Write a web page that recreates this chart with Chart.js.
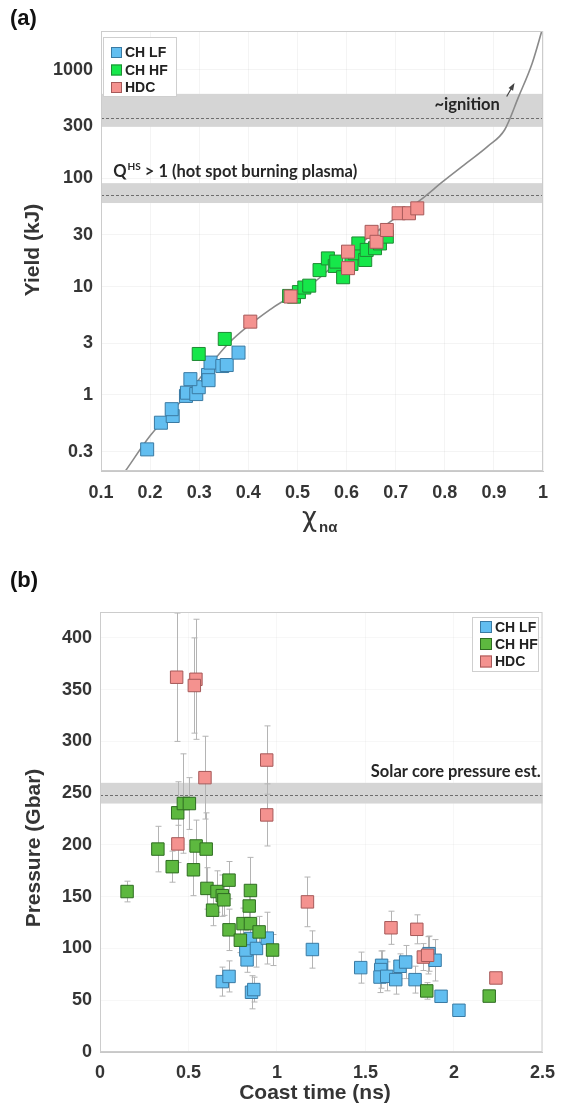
<!DOCTYPE html>
<html>
<head>
<meta charset="utf-8">
<script src="https://cdn.jsdelivr.net/npm/chart.js@4.4.0/dist/chart.umd.min.js"></script>
<style>
body { margin:0; background:#fff; width:565px; height:1113px; position:relative; overflow:hidden; }
canvas { position:absolute; left:0; }
#ca { top:0; }
#cb { top:556px; }
</style>
</head>
<body>
<canvas id="ca" width="565" height="556"></canvas>
<canvas id="cb" width="565" height="557"></canvas>
<script>
// ---- panel (a): yield vs chi_n_alpha ----
var lfChiA   = [0.194, 0.222, 0.246, 0.244, 0.273, 0.275, 0.294, 0.299, 0.282, 0.318, 0.319, 0.323, 0.347, 0.356, 0.380];
var lfYieldA = [0.315, 0.555, 0.64, 0.74, 0.98, 1.05, 1.02, 1.18, 1.40, 1.53, 1.37, 1.99, 1.85, 1.89, 2.46];
var hfChiA   = [0.299, 0.352, 0.483, 0.493, 0.503, 0.514, 0.524, 0.545, 0.562, 0.576, 0.579, 0.593, 0.610, 0.617, 0.624, 0.638, 0.641, 0.658, 0.668, 0.682];
var hfYieldA = [2.39, 3.29, 8.2, 8.07, 8.9, 9.8, 10.2, 14.2, 18.2, 15.5, 17.0, 12.2, 16.2, 20.3, 25.0, 17.6, 21.8, 22.6, 25.0, 28.9];
var hdcChiA   = [0.404, 0.486, 0.603, 0.603, 0.651, 0.661, 0.682, 0.706, 0.727, 0.744];
var hdcYieldA = [4.75, 8.1, 21.0, 14.8, 32.0, 25.9, 33.3, 47.5, 47.5, 52.7];
// model curve
var curveChi   = [0.150, 0.200, 0.274, 0.360, 0.448, 0.531, 0.600, 0.680, 0.758, 0.792, 0.846, 0.888, 0.922, 0.950, 0.978, 0.999];
var curveYield = [0.2, 0.42, 1.0, 3.0, 6.3, 10.7, 20, 37, 67, 90, 140, 198, 280, 560, 1150, 2400];
var xTicksA = [0.1, 0.2, 0.3, 0.4, 0.5, 0.6, 0.7, 0.8, 0.9, 1];
var yTicksA = [0.3, 1, 3, 10, 30, 100, 300, 1000];
var bandLoA  = [298, 59];
var bandMidA = [360, 70];
var bandHiA  = [600, 90];

// ---- panel (b): pressure vs coast time ----
var lfTimeB  = [0.691, 0.729, 0.856, 0.869, 0.831, 0.824, 0.850, 0.884, 0.945, 1.200, 1.473, 1.591, 1.586, 1.582, 1.620, 1.671, 1.695, 1.727, 1.780, 1.859, 1.893, 1.927, 2.028];
var lfPresB  = [68, 73, 57.7, 60.3, 89, 98.5, 109.6, 100, 110, 99, 81.5, 83.7, 79.6, 72.4, 73.1, 69.9, 82.8, 86.9, 69.9, 95, 88.6, 53.8, 40.3];
var lfErrB   = [14, 15, 16, 12, 12, 15, 18, 18, 25, 18, 15, 14, 18, 15, 14, 14, 12, 16, 13, 17, 20, 5, 3];
var hfTimeB  = [0.153, 0.327, 0.408, 0.439, 0.471, 0.505, 0.528, 0.543, 0.600, 0.604, 0.636, 0.661, 0.691, 0.700, 0.729, 0.729, 0.793, 0.808, 0.850, 0.843, 0.850, 0.899, 0.975, 1.846, 2.199];
var hfPresB  = [155, 196, 179, 231, 240, 240, 176, 199, 196, 158, 137, 155, 151, 147, 166, 118, 108, 124, 124, 141, 156, 116, 98.5, 59, 54];
var hfErrB   = [10, 22, 15, 30, 48, 25, 25, 25, 35, 20, 15, 20, 20, 15, 18, 20, 12, 15, 15, 18, 32, 15, 15, 8, 5];
var hdcTimeB = [0.433, 0.542, 0.533, 0.593, 0.942, 0.942, 0.440, 1.172, 1.644, 1.790, 1.827, 1.851, 2.237];
var hdcPresB = [362, 360, 354, 265, 282, 229, 201, 145, 120, 118.5, 91.7, 93.4, 71.5];
var hdcErrB  = [62, 58, 46, 40, 33, 30, 18, 24, 16, 14, 13, 18, 3];
var xTicksB = [0, 0.5, 1, 1.5, 2, 2.5];
var yTicksB = [0, 50, 100, 150, 200, 250, 300, 350, 400];
var bandLoB = 240, bandMidB = 248, bandHiB = 260;

var seriesNames = ['CH LF', 'CH HF', 'HDC'];

function pts(xs, ys) { return xs.map(function (x, i) { return { x: x, y: ys[i] }; }); }

var tickFont = { family: '"Liberation Sans", Arial, sans-serif', size: 18, weight: 'bold' };
var INK = '#353535';
var NOTE_FONT = 'bold 16.5px Lato, "Open Sans", sans-serif';
var LF_FILL = '#62bef0', LF_EDGE = '#3a7aa3';
var HFA_FILL = '#16e74a', HFA_EDGE = '#1f8a34';
var HFB_FILL = '#5db83f', HFB_EDGE = '#2f6d22';
var HDC_FILL = '#f4928f', HDC_EDGE = '#a65959';

function drawLegend(ctx, x, y, w, h, rowY, sq, colors) {
  ctx.save();
  ctx.fillStyle = '#fff';
  ctx.fillRect(x, y, w, h);
  ctx.strokeStyle = '#cfcfcf';
  ctx.lineWidth = 1;
  ctx.strokeRect(x + 0.5, y + 0.5, w, h);
  ctx.font = 'bold 14px "Liberation Sans", Arial, sans-serif';
  ctx.textBaseline = 'middle';
  for (var i = 0; i < seriesNames.length; i++) {
    ctx.fillStyle = colors[i][0];
    ctx.fillRect(x + 8, rowY[i] - sq / 2, sq, sq);
    ctx.strokeStyle = colors[i][1];
    ctx.strokeRect(x + 8.5, rowY[i] - sq / 2 + 0.5, sq - 1, sq - 1);
    ctx.fillStyle = '#222';
    ctx.fillText(seriesNames[i], x + 11 + sq, rowY[i] + 1);
  }
  ctx.restore();
}

function drawBox(chart) {
  var a = chart.chartArea, ctx = chart.ctx;
  ctx.save();
  ctx.strokeStyle = '#cccccc';
  ctx.lineWidth = 1;
  ctx.strokeRect(a.left + 0.5, a.top + 0.5, a.right - a.left - 1, a.bottom - a.top - 1);
  ctx.restore();
}

// ---------- chart (a) ----------
var plugA = {
  id: 'extrasA',
  beforeDatasetsDraw: function (chart) {
    var ctx = chart.ctx, a = chart.chartArea, y = chart.scales.y;
    ctx.save();
    for (var i = 0; i < bandLoA.length; i++) {
      var t = y.getPixelForValue(bandHiA[i]), b = y.getPixelForValue(bandLoA[i]);
      ctx.fillStyle = '#d5d5d5';
      ctx.fillRect(a.left, t, a.right - a.left, b - t);
      var m = Math.round(y.getPixelForValue(bandMidA[i])) + 0.5;
      ctx.strokeStyle = '#6e6e6e';
      ctx.lineWidth = 1;
      ctx.setLineDash([3, 2]);
      ctx.beginPath(); ctx.moveTo(a.left, m); ctx.lineTo(a.right, m); ctx.stroke();
      ctx.setLineDash([]);
    }
    ctx.restore();
  },
  afterDraw: function (chart) {
    var ctx = chart.ctx, x = chart.scales.x, y = chart.scales.y;
    drawBox(chart);
    ctx.save();
    // annotations
    ctx.fillStyle = '#262626';
    ctx.textBaseline = 'middle';
    ctx.font = NOTE_FONT;
    ctx.textAlign = 'right';
    ctx.fillText('~ignition', x.getPixelForValue(0.912), y.getPixelForValue(475));
    ctx.textAlign = 'left';
    var qx = x.getPixelForValue(0.125), qy = y.getPixelForValue(114);
    ctx.fillText('Q', qx, qy);
    var qw = ctx.measureText('Q').width;
    ctx.font = 'bold 10px Lato, "Open Sans", sans-serif';
    ctx.fillText('HS', qx + qw + 1, qy - 5);
    var hw = ctx.measureText('HS').width;
    ctx.font = NOTE_FONT;
    ctx.fillText(' > 1 (hot spot burning plasma)', qx + qw + hw + 1, qy);
    // arrow toward ignition
    var x0 = x.getPixelForValue(0.926), y0 = y.getPixelForValue(567);
    var x1 = x.getPixelForValue(0.940), y1 = y.getPixelForValue(728);
    ctx.strokeStyle = '#444'; ctx.fillStyle = '#444'; ctx.lineWidth = 1.2;
    ctx.beginPath(); ctx.moveTo(x0, y0); ctx.lineTo(x1, y1); ctx.stroke();
    var ang = Math.atan2(y1 - y0, x1 - x0);
    ctx.beginPath();
    ctx.moveTo(x1 + 2 * Math.cos(ang), y1 + 2 * Math.sin(ang));
    ctx.lineTo(x1 - 6 * Math.cos(ang - 0.45), y1 - 6 * Math.sin(ang - 0.45));
    ctx.lineTo(x1 - 6 * Math.cos(ang + 0.45), y1 - 6 * Math.sin(ang + 0.45));
    ctx.closePath(); ctx.fill();
    // axis titles
    ctx.fillStyle = INK;
    ctx.textAlign = 'center';
    ctx.font = 'bold 21px "Liberation Sans", Arial, sans-serif';
    ctx.save();
    ctx.translate(33, 250); ctx.rotate(-Math.PI / 2);
    ctx.fillText('Yield (kJ)', 0, 0);
    ctx.restore();
    ctx.textAlign = 'left';
    ctx.textBaseline = 'alphabetic';
    ctx.font = '26px "DejaVu Sans", sans-serif';
    ctx.fillText('\u03c7', 302, 526);
    ctx.font = 'bold 15px "Liberation Sans", Arial, sans-serif';
    ctx.fillText('n\u03b1', 319, 532);
    ctx.textBaseline = 'middle';
    ctx.font = 'bold 22px "Liberation Sans", Arial, sans-serif';
    ctx.fillStyle = '#111';
    ctx.fillText('(a)', 10, 19);
    ctx.restore();
    drawLegend(ctx, 103, 37, 73, 59, [52.5, 70, 87.5], 11,
      [[LF_FILL, LF_EDGE], [HFA_FILL, HFA_EDGE], [HDC_FILL, HDC_EDGE]]);
  }
};

new Chart(document.getElementById('ca'), {
  type: 'scatter',
  data: {
    datasets: [
      { label: seriesNames[0], data: pts(lfChiA, lfYieldA), pointStyle: 'rect', pointRadius: 9.2,
        backgroundColor: LF_FILL, borderColor: LF_EDGE, borderWidth: 1, order: 3 },
      { label: seriesNames[1], data: pts(hfChiA, hfYieldA), pointStyle: 'rect', pointRadius: 9.2,
        backgroundColor: HFA_FILL, borderColor: HFA_EDGE, borderWidth: 1, order: 2 },
      { label: seriesNames[2], data: pts(hdcChiA, hdcYieldA), pointStyle: 'rect', pointRadius: 9.2,
        backgroundColor: HDC_FILL, borderColor: HDC_EDGE, borderWidth: 1, order: 1 },
      { label: 'model', data: pts(curveChi, curveYield), showLine: true, pointRadius: 0,
        borderColor: '#8a8a8a', borderWidth: 1.6, cubicInterpolationMode: 'monotone', order: 10 }
    ]
  },
  options: {
    responsive: false,
    animation: false,
    events: [],
    layout: { padding: { left: 0, right: 22, top: 31, bottom: 0 } },
    plugins: { legend: { display: false }, tooltip: { enabled: false } },
    scales: {
      x: {
        type: 'linear', min: 0.1, max: 1,
        afterBuildTicks: function (s) { s.ticks = xTicksA.map(function (v) { return { value: v }; }); },
        afterFit: function (s) { s.height = 85; },
        ticks: { font: tickFont, color: INK, padding: 11, maxRotation: 0,
          callback: function (v) { return String(Math.round(v * 10) / 10); } },
        grid: { color: 'rgba(0,0,0,0.045)', drawTicks: false },
        border: { color: '#c8c8c8' }
      },
      y: {
        type: 'logarithmic', min: 0.199, max: 2280,
        afterBuildTicks: function (s) { s.ticks = yTicksA.map(function (v) { return { value: v }; }); },
        afterFit: function (s) { s.width = 101; },
        ticks: { font: tickFont, color: INK, padding: 8,
          callback: function (v) { return String(v); } },
        grid: { color: 'rgba(0,0,0,0.045)', drawTicks: false },
        border: { color: '#c8c8c8' }
      }
    }
  },
  plugins: [plugA]
});

// ---------- chart (b) ----------
var errSets = [[lfTimeB, lfPresB, lfErrB], [hfTimeB, hfPresB, hfErrB], [hdcTimeB, hdcPresB, hdcErrB]];

var plugB = {
  id: 'extrasB',
  beforeDatasetsDraw: function (chart) {
    var ctx = chart.ctx, a = chart.chartArea, x = chart.scales.x, y = chart.scales.y;
    ctx.save();
    var t = y.getPixelForValue(bandHiB), b = y.getPixelForValue(bandLoB);
    ctx.fillStyle = '#d5d5d5';
    ctx.fillRect(a.left, t, a.right - a.left, b - t);
    var m = Math.round(y.getPixelForValue(bandMidB)) + 0.5;
    ctx.strokeStyle = '#6e6e6e'; ctx.lineWidth = 1; ctx.setLineDash([3, 2]);
    ctx.beginPath(); ctx.moveTo(a.left, m); ctx.lineTo(a.right, m); ctx.stroke();
    ctx.setLineDash([]);
    // error bars
    ctx.beginPath();
    ctx.rect(a.left, a.top, a.right - a.left, a.bottom - a.top);
    ctx.clip();
    ctx.strokeStyle = '#b4b4b4'; ctx.lineWidth = 1;
    errSets.forEach(function (s) {
      for (var i = 0; i < s[0].length; i++) {
        var px = Math.round(x.getPixelForValue(s[0][i])) + 0.5;
        var hi = y.getPixelForValue(s[1][i] + s[2][i]);
        var lo = y.getPixelForValue(s[1][i] - s[2][i]);
        ctx.beginPath();
        ctx.moveTo(px, hi); ctx.lineTo(px, lo);
        ctx.moveTo(px - 3, hi); ctx.lineTo(px + 3, hi);
        ctx.moveTo(px - 3, lo); ctx.lineTo(px + 3, lo);
        ctx.stroke();
      }
    });
    ctx.restore();
  },
  afterDraw: function (chart) {
    var ctx = chart.ctx, x = chart.scales.x, y = chart.scales.y;
    drawBox(chart);
    ctx.save();
    ctx.fillStyle = '#262626';
    ctx.textBaseline = 'middle';
    ctx.textAlign = 'right';
    ctx.font = NOTE_FONT;
    ctx.fillText('Solar core pressure est.', x.getPixelForValue(2.49), y.getPixelForValue(271));
    ctx.fillStyle = INK;
    ctx.textAlign = 'center';
    ctx.font = 'bold 21px "Liberation Sans", Arial, sans-serif';
    ctx.save();
    ctx.translate(34, 292); ctx.rotate(-Math.PI / 2);
    ctx.fillText('Pressure (Gbar)', 0, 0);
    ctx.restore();
    ctx.fillText('Coast time (ns)', 315, 537);
    ctx.textAlign = 'left';
    ctx.font = 'bold 22px "Liberation Sans", Arial, sans-serif';
    ctx.fillStyle = '#111';
    ctx.fillText('(b)', 10, 25);
    ctx.restore();
    drawLegend(ctx, 472, 61, 66, 54, [71, 88, 105.5], 12,
      [[LF_FILL, LF_EDGE], [HFB_FILL, HFB_EDGE], [HDC_FILL, HDC_EDGE]]);
  }
};

new Chart(document.getElementById('cb'), {
  type: 'scatter',
  data: {
    datasets: [
      { label: seriesNames[0], data: pts(lfTimeB, lfPresB), pointStyle: 'rect', pointRadius: 8.8,
        backgroundColor: LF_FILL, borderColor: LF_EDGE, borderWidth: 1, order: 3 },
      { label: seriesNames[1], data: pts(hfTimeB, hfPresB), pointStyle: 'rect', pointRadius: 8.8,
        backgroundColor: HFB_FILL, borderColor: HFB_EDGE, borderWidth: 1, order: 2 },
      { label: seriesNames[2], data: pts(hdcTimeB, hdcPresB), pointStyle: 'rect', pointRadius: 8.8,
        backgroundColor: HDC_FILL, borderColor: HDC_EDGE, borderWidth: 1, order: 1 }
    ]
  },
  options: {
    responsive: false,
    animation: false,
    events: [],
    layout: { padding: { left: 0, right: 22, top: 56, bottom: 0 } },
    plugins: { legend: { display: false }, tooltip: { enabled: false } },
    scales: {
      x: {
        type: 'linear', min: 0, max: 2.5,
        afterBuildTicks: function (s) { s.ticks = xTicksB.map(function (v) { return { value: v }; }); },
        afterFit: function (s) { s.height = 61; },
        ticks: { font: tickFont, color: INK, padding: 10, maxRotation: 0,
          callback: function (v) { return String(v); } },
        grid: { color: 'rgba(0,0,0,0.03)', drawTicks: false },
        border: { color: '#c8c8c8' }
      },
      y: {
        type: 'linear', min: 0, max: 425,
        afterBuildTicks: function (s) { s.ticks = yTicksB.map(function (v) { return { value: v }; }); },
        afterFit: function (s) { s.width = 100; },
        ticks: { font: tickFont, color: INK, padding: 8,
          callback: function (v) { return String(v); } },
        grid: { color: 'rgba(0,0,0,0.03)', drawTicks: false },
        border: { color: '#c8c8c8' }
      }
    }
  },
  plugins: [plugB]
});
</script>
</body>
</html>
